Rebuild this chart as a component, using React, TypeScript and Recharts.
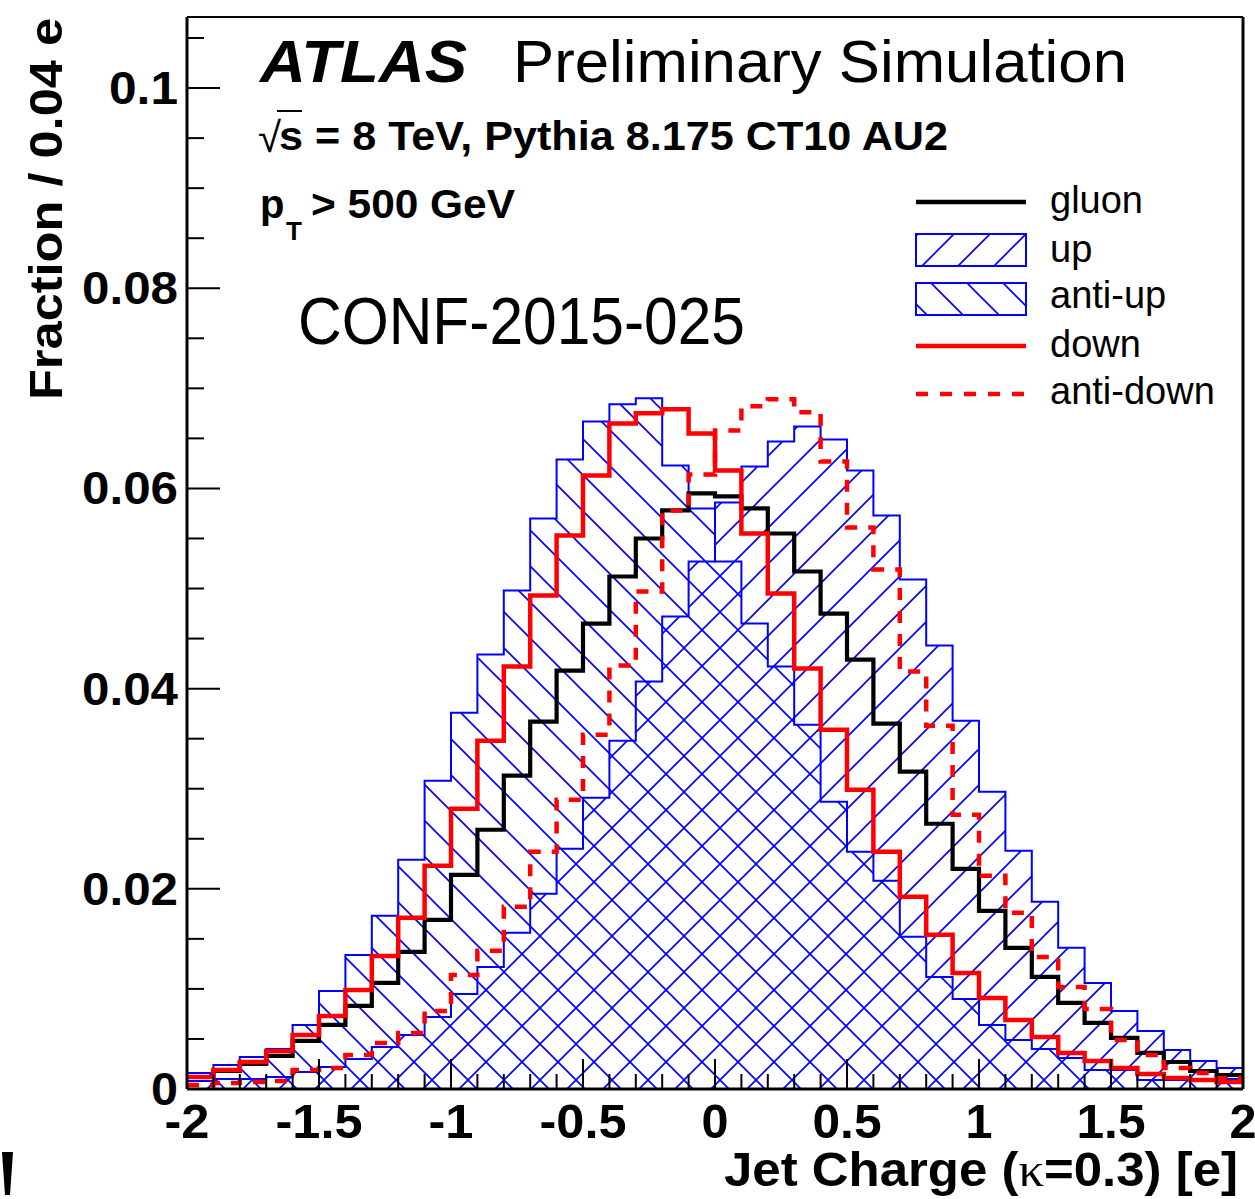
import React from 'react';
import { ComposedChart, Line, Area, XAxis, YAxis } from 'recharts';

// 40 bins of width 0.1 from -2 to 2 (values per bin)
const gluon = [0.0012, 0.0018, 0.0025, 0.0033, 0.0048, 0.0064, 0.0083, 0.0106, 0.0137, 0.0169, 0.0214, 0.0259, 0.0313, 0.0367, 0.0418, 0.0465, 0.0512, 0.055, 0.0578, 0.0595, 0.0592, 0.058, 0.0555, 0.0517, 0.0475, 0.0429, 0.0365, 0.0317, 0.0265, 0.022, 0.0178, 0.0141, 0.0112, 0.0086, 0.0066, 0.0051, 0.0036, 0.0027, 0.0018, 0.0014];
const up = [0.0008, 0.001, 0.001, 0.0012, 0.0017, 0.0022, 0.003, 0.0042, 0.0054, 0.0072, 0.0095, 0.0122, 0.0156, 0.0195, 0.024, 0.0291, 0.0348, 0.0407, 0.0472, 0.0527, 0.0586, 0.0622, 0.0647, 0.0662, 0.0649, 0.0618, 0.0573, 0.0509, 0.0443, 0.0368, 0.0297, 0.0238, 0.0187, 0.0141, 0.0106, 0.0078, 0.0058, 0.0039, 0.0028, 0.0021];
const antiUp = [0.0016, 0.0024, 0.0032, 0.004, 0.0064, 0.0098, 0.0134, 0.0173, 0.0229, 0.0308, 0.0376, 0.0434, 0.0498, 0.057, 0.0629, 0.0667, 0.0684, 0.069, 0.0623, 0.058, 0.0527, 0.0465, 0.0422, 0.0364, 0.0287, 0.0237, 0.0208, 0.0152, 0.0112, 0.009, 0.0064, 0.0049, 0.004, 0.0031, 0.0019, 0.0019, 0.0009, 0.0009, 0.001, 0.001];
const down = [0.0012, 0.0019, 0.0027, 0.0038, 0.0054, 0.0073, 0.0099, 0.0133, 0.0171, 0.0223, 0.028, 0.0348, 0.0422, 0.0493, 0.0553, 0.0613, 0.0665, 0.0675, 0.0679, 0.0655, 0.0618, 0.0555, 0.0495, 0.042, 0.0359, 0.0299, 0.0237, 0.0192, 0.0154, 0.0116, 0.0091, 0.0069, 0.0052, 0.0036, 0.0028, 0.0021, 0.0015, 0.0011, 0.0009, 0.0007];
const antiDown = [0.0004, 0.0006, 0.0007, 0.0008, 0.0019, 0.0021, 0.0034, 0.0046, 0.0056, 0.0078, 0.0114, 0.0138, 0.0182, 0.0237, 0.0289, 0.0354, 0.0423, 0.0497, 0.0578, 0.0614, 0.0658, 0.0682, 0.0689, 0.0676, 0.0627, 0.0561, 0.0519, 0.0417, 0.0363, 0.0274, 0.0213, 0.0176, 0.0132, 0.0102, 0.008, 0.0049, 0.0034, 0.0021, 0.0016, 0.0011];

const xMajorLabels = ['-2', '-1.5', '-1', '-0.5', '0', '0.5', '1', '1.5', '2'];
const yMajorLabels = ['0', '0.02', '0.04', '0.06', '0.08', '0.1'];
const legendLabels = ['gluon', 'up', 'anti-up', 'down', 'anti-down'];

const NBINS = 40;
const data = Array.from({ length: NBINS + 1 }, (_, i) => {
  const k = Math.min(i, NBINS - 1);
  return {
    x: (i - 20) / 10,
    gluon: gluon[k],
    up: up[k],
    antiUp: antiUp[k],
    down: down[k],
    antiDown: antiDown[k],
  };
});

const xTicks = Array.from({ length: 41 }, (_, i) => (i - 20) / 10);
const yTicks = Array.from({ length: 22 }, (_, i) => i / 200);

const W = 1255;
const H = 1199;
const PL = 187;
const PR = 1243;
const PT = 17;
const PB = 1089;
const FONT = '"Liberation Sans", Arial, Helvetica, sans-serif';
const BLUE = '#0000ff';
const RED = '#ff0000';

const labelWidth = (s: string) =>
  s.split('').reduce((w, c) => w + (c === '-' ? 18 : c === '.' ? 15 : 27), 0);

const XTick = (props: any) => {
  const { x, payload } = props;
  const v = payload.value as number;
  const n = Math.round(v * 10);
  const major = Math.abs(n) % 5 === 0;
  const label = xMajorLabels.find((s) => Math.abs(parseFloat(s) - v) < 1e-6);
  return (
    <g>
      <line x1={x} x2={x} y1={PB} y2={PB - (major ? 30 : 15)} stroke="#000" strokeWidth={2} />
      {major && label !== undefined && (
        <text x={x} y={1138} textAnchor="middle" fontFamily={FONT} fontWeight="bold" fontSize={48}
          textLength={labelWidth(label)} lengthAdjust="spacingAndGlyphs" fill="#000">
          {label}
        </text>
      )}
    </g>
  );
};

const YTick = (props: any) => {
  const { y, payload } = props;
  const v = payload.value as number;
  const n = Math.round(v * 200);
  const major = n % 4 === 0;
  const label = yMajorLabels.find((s) => Math.abs(parseFloat(s) - v) < 1e-6);
  return (
    <g>
      <line x1={PL} x2={PL + (major ? 33 : 17)} y1={y} y2={y} stroke="#000" strokeWidth={2} />
      {major && label !== undefined && (
        <text x={178} y={y + 16} textAnchor="end" fontFamily={FONT} fontWeight="bold" fontSize={46}
          textLength={labelWidth(label)} lengthAdjust="spacingAndGlyphs" fill="#000">
          {label}
        </text>
      )}
    </g>
  );
};

export default function App() {
  return (
    <div style={{ position: 'absolute', left: 0, top: 0, width: W, height: H, background: '#fff' }}>
      <svg width={0} height={0} style={{ position: 'absolute' }}>
        <defs>
          <pattern id="hatchUp" patternUnits="userSpaceOnUse" width={36} height={36}>
            <path d="M-9,9 L9,-9 M0,36 L36,0 M27,45 L45,27" stroke={BLUE} strokeWidth={1.6} />
          </pattern>
          <pattern id="hatchAntiUp" patternUnits="userSpaceOnUse" width={36} height={36}>
            <path d="M-9,27 L9,45 M0,0 L36,36 M27,-9 L45,9" stroke={BLUE} strokeWidth={1.6} />
          </pattern>
        </defs>
      </svg>
      <ComposedChart width={W} height={H} data={data}
        margin={{ top: PT - 1, right: W - PR - 1, bottom: H - PB - 1, left: PL - 1 }}>
        <XAxis xAxisId="b" dataKey="x" type="number" domain={[-2, 2]} ticks={xTicks} interval={0}
          height={1} tickLine={false} tick={<XTick />} axisLine={{ stroke: '#000', strokeWidth: 3 }} allowDataOverflow />
        <XAxis xAxisId="t" orientation="top" dataKey="x" type="number" domain={[-2, 2]} height={1}
          tick={false} tickLine={false} axisLine={{ stroke: '#000', strokeWidth: 2 }} />
        <YAxis yAxisId="l" type="number" domain={[0, 0.1071]} ticks={yTicks} interval={0} width={1}
          tickLine={false} tick={<YTick />} axisLine={{ stroke: '#000', strokeWidth: 3 }} allowDataOverflow />
        <YAxis yAxisId="r" orientation="right" type="number" domain={[0, 0.1071]} width={1}
          tick={false} tickLine={false} axisLine={{ stroke: '#000', strokeWidth: 3 }} />
        <Area xAxisId="b" yAxisId="l" type="stepAfter" dataKey="up" stroke={BLUE} strokeWidth={2}
          fill="url(#hatchUp)" fillOpacity={1} isAnimationActive={false} dot={false} activeDot={false} />
        <Area xAxisId="b" yAxisId="l" type="stepAfter" dataKey="antiUp" stroke={BLUE} strokeWidth={2}
          fill="url(#hatchAntiUp)" fillOpacity={1} isAnimationActive={false} dot={false} activeDot={false} />
        <Line xAxisId="b" yAxisId="l" type="stepAfter" dataKey="gluon" stroke="#000" strokeWidth={4.2}
          dot={false} activeDot={false} isAnimationActive={false} strokeLinejoin="miter" strokeLinecap="butt" />
        <Line xAxisId="b" yAxisId="l" type="stepAfter" dataKey="down" stroke={RED} strokeWidth={4.5}
          dot={false} activeDot={false} isAnimationActive={false} strokeLinejoin="miter" strokeLinecap="butt" />
        <Line xAxisId="b" yAxisId="l" type="stepAfter" dataKey="antiDown" stroke={RED} strokeWidth={4.5}
          strokeDasharray="12 11" dot={false} activeDot={false} isAnimationActive={false} strokeLinejoin="miter" strokeLinecap="butt" />
      </ComposedChart>
      <svg width={W} height={H} style={{ position: 'absolute', left: 0, top: 0, pointerEvents: 'none' }}>
        {/* header texts */}
        <text x={260} y={82} fontFamily={FONT} fontWeight="bold" fontStyle="italic" fontSize={60}
          textLength={207} lengthAdjust="spacingAndGlyphs">ATLAS</text>
        <text x={513} y={82} fontFamily={FONT} fontSize={60} textLength={614} lengthAdjust="spacingAndGlyphs">Preliminary Simulation</text>
        <text x={258} y={152} fontFamily={FONT} fontSize={42}>√</text>
        <line x1={277} x2={302} y1={111} y2={111} stroke="#000" strokeWidth={2} />
        <text x={279} y={150} fontFamily={FONT} fontWeight="bold" fontSize={40} textLength={669} lengthAdjust="spacingAndGlyphs">s = 8 TeV, Pythia 8.175 CT10 AU2</text>
        <text x={260} y={218} fontFamily={FONT} fontWeight="bold" fontSize={40}>p</text>
        <text x={286} y={240} fontFamily={FONT} fontWeight="bold" fontSize={26}>T</text>
        <text x={311} y={218} fontFamily={FONT} fontWeight="bold" fontSize={40} textLength={204} lengthAdjust="spacingAndGlyphs">&gt; 500 GeV</text>
        <text x={298} y={344} fontFamily={FONT} fontSize={66} textLength={447} lengthAdjust="spacingAndGlyphs">CONF-2015-025</text>

        {/* legend */}
        <line x1={916} x2={1026} y1={202} y2={202} stroke="#000" strokeWidth={4.5} />
        <rect x={916} y={234} width={110} height={32} fill="url(#hatchUp)" stroke={BLUE} strokeWidth={2} />
        <rect x={916} y={283} width={110} height={32} fill="url(#hatchAntiUp)" stroke={BLUE} strokeWidth={2} />
        <line x1={916} x2={1026} y1={346} y2={346} stroke={RED} strokeWidth={4.5} />
        <line x1={916} x2={1026} y1={394} y2={394} stroke={RED} strokeWidth={4.5} strokeDasharray="12 12" />
        {legendLabels.map((s, i) => (
          <text key={s} x={1050} y={[213, 262, 308, 357, 404][i]} fontFamily={FONT} fontSize={38}>{s}</text>
        ))}

        {/* axis titles */}
        <text transform="translate(62,400) rotate(-90)" fontFamily={FONT} fontWeight="bold" fontSize={46}
          textLength={382} lengthAdjust="spacingAndGlyphs">Fraction / 0.04 e</text>
        <text x={724} y={1186} fontFamily={FONT} fontWeight="bold" fontSize={48} textLength={514} lengthAdjust="spacingAndGlyphs">
          Jet Charge (<tspan fontFamily='"Liberation Serif", serif' fontWeight="normal">κ</tspan>=0.3) [e]
        </text>
        <path d="M2,1152 L13,1152 L10,1195 L5,1195 Z" fill="#000" />
      </svg>
    </div>
  );
}
